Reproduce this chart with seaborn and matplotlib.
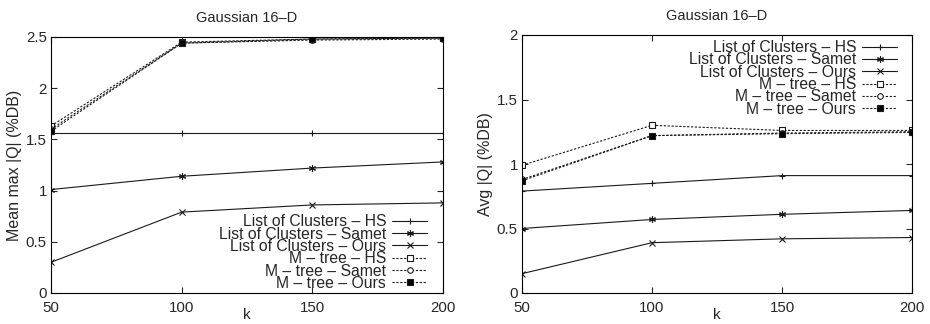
import matplotlib
matplotlib.use("Agg")
import matplotlib.pyplot as plt
import seaborn as sns

# ── data ─────────────────────────────────────────────────────────────────
k = [50, 100, 150, 200]

series_names = [
    "List of Clusters – HS",
    "List of Clusters – Samet",
    "List of Clusters – Ours",
    "M – tree – HS",
    "M – tree – Samet",
    "M – tree – Ours",
]

# left panel: mean max |Q|
max_loc_hs = [1.56, 1.56, 1.56, 1.56]
max_loc_samet = [1.01, 1.14, 1.22, 1.28]
max_loc_ours = [0.30, 0.79, 0.86, 0.88]
max_mt_hs = [1.63, 2.45, 2.48, 2.49]
max_mt_samet = [1.60, 2.44, 2.47, 2.48]
max_mt_ours = [1.58, 2.44, 2.48, 2.49]

# right panel: avg |Q|
avg_loc_hs = [0.79, 0.85, 0.91, 0.91]
avg_loc_samet = [0.50, 0.57, 0.61, 0.64]
avg_loc_ours = [0.15, 0.39, 0.42, 0.43]
avg_mt_hs = [0.99, 1.30, 1.26, 1.26]
avg_mt_samet = [0.88, 1.22, 1.24, 1.25]
avg_mt_ours = [0.87, 1.22, 1.235, 1.245]

left_vals = [max_loc_hs, max_loc_samet, max_loc_ours, max_mt_hs, max_mt_samet, max_mt_ours]
right_vals = [avg_loc_hs, avg_loc_samet, avg_loc_ours, avg_mt_hs, avg_mt_samet, avg_mt_ours]

# ── styles (gnuplot look) ────────────────────────────────────────────────
STYLES = [
    dict(marker="+", ls="-", mfc="black", ms=5),
    dict(marker=(6, 2, 0), ls="-", mfc="black", ms=5),
    dict(marker="x", ls="-", mfc="black", ms=4),
    dict(marker="s", ls=(0, (2, 1.5)), mfc="white", ms=4.5),
    dict(marker="o", ls=(0, (2, 1.5)), mfc="white", ms=4),
    dict(marker="s", ls=(0, (2, 1.5)), mfc="black", ms=5),
]

sns.set_style("ticks")
plt.rcParams["font.family"] = ["Liberation Sans", "DejaVu Sans"]
plt.rcParams["font.size"] = 10


def draw(ax, values, ylim, yticks, ylabel, legend_loc, legend_anchor):
    for name, vals, st in zip(series_names, values, STYLES):
        sns.lineplot(
            x=k, y=vals, ax=ax, color="#1a1a1a", lw=0.8,
            linestyle=st["ls"], marker=st["marker"], markersize=st["ms"],
            markerfacecolor=st["mfc"], markeredgecolor="#1a1a1a",
            markeredgewidth=0.8, label=name,
        )
    ax.set_xlim(50, 200)
    ax.set_ylim(*ylim)
    ax.set_xticks(k)
    ax.set_yticks(yticks)
    ax.set_yticklabels([f"{t:g}" for t in yticks])
    ax.tick_params(direction="in", top=True, right=True, length=4,
                   width=0.8, labelsize=10.8)
    ax.tick_params(axis="x", pad=6)
    ax.tick_params(axis="y", pad=3)
    for sp in ax.spines.values():
        sp.set_linewidth(0.8)
        sp.set_color("black")
    ax.set_title("Gaussian 16–D", fontsize=10.5, pad=10.5)
    ax.set_xlabel("k", fontsize=11, labelpad=-5)
    ax.set_ylabel(ylabel, fontsize=11.5, labelpad=3)
    ax.legend(loc=legend_loc, bbox_to_anchor=legend_anchor, frameon=False,
              markerfirst=False, fontsize=11.3, handlelength=2.2,
              handletextpad=0.4, labelspacing=-0.17, borderaxespad=0,
              borderpad=0, numpoints=1)


fig = plt.figure(figsize=(9.3, 3.24), dpi=100)
ax1 = fig.add_axes([51 / 930, 1 - 293 / 324, 392 / 930, 256 / 324])
ax2 = fig.add_axes([522 / 930, 1 - 293 / 324, 390 / 930, 258 / 324])

draw(ax1, left_vals, (0, 2.5), [0, 0.5, 1, 1.5, 2, 2.5],
     "Mean max |Q| (%DB)", "lower right", (0.959, 0.008))
draw(ax2, right_vals, (0, 2), [0, 0.5, 1, 1.5, 2],
     "Avg |Q| (%DB)", "upper right", (0.9615, 0.98))

fig.savefig("out.png", dpi=100)
